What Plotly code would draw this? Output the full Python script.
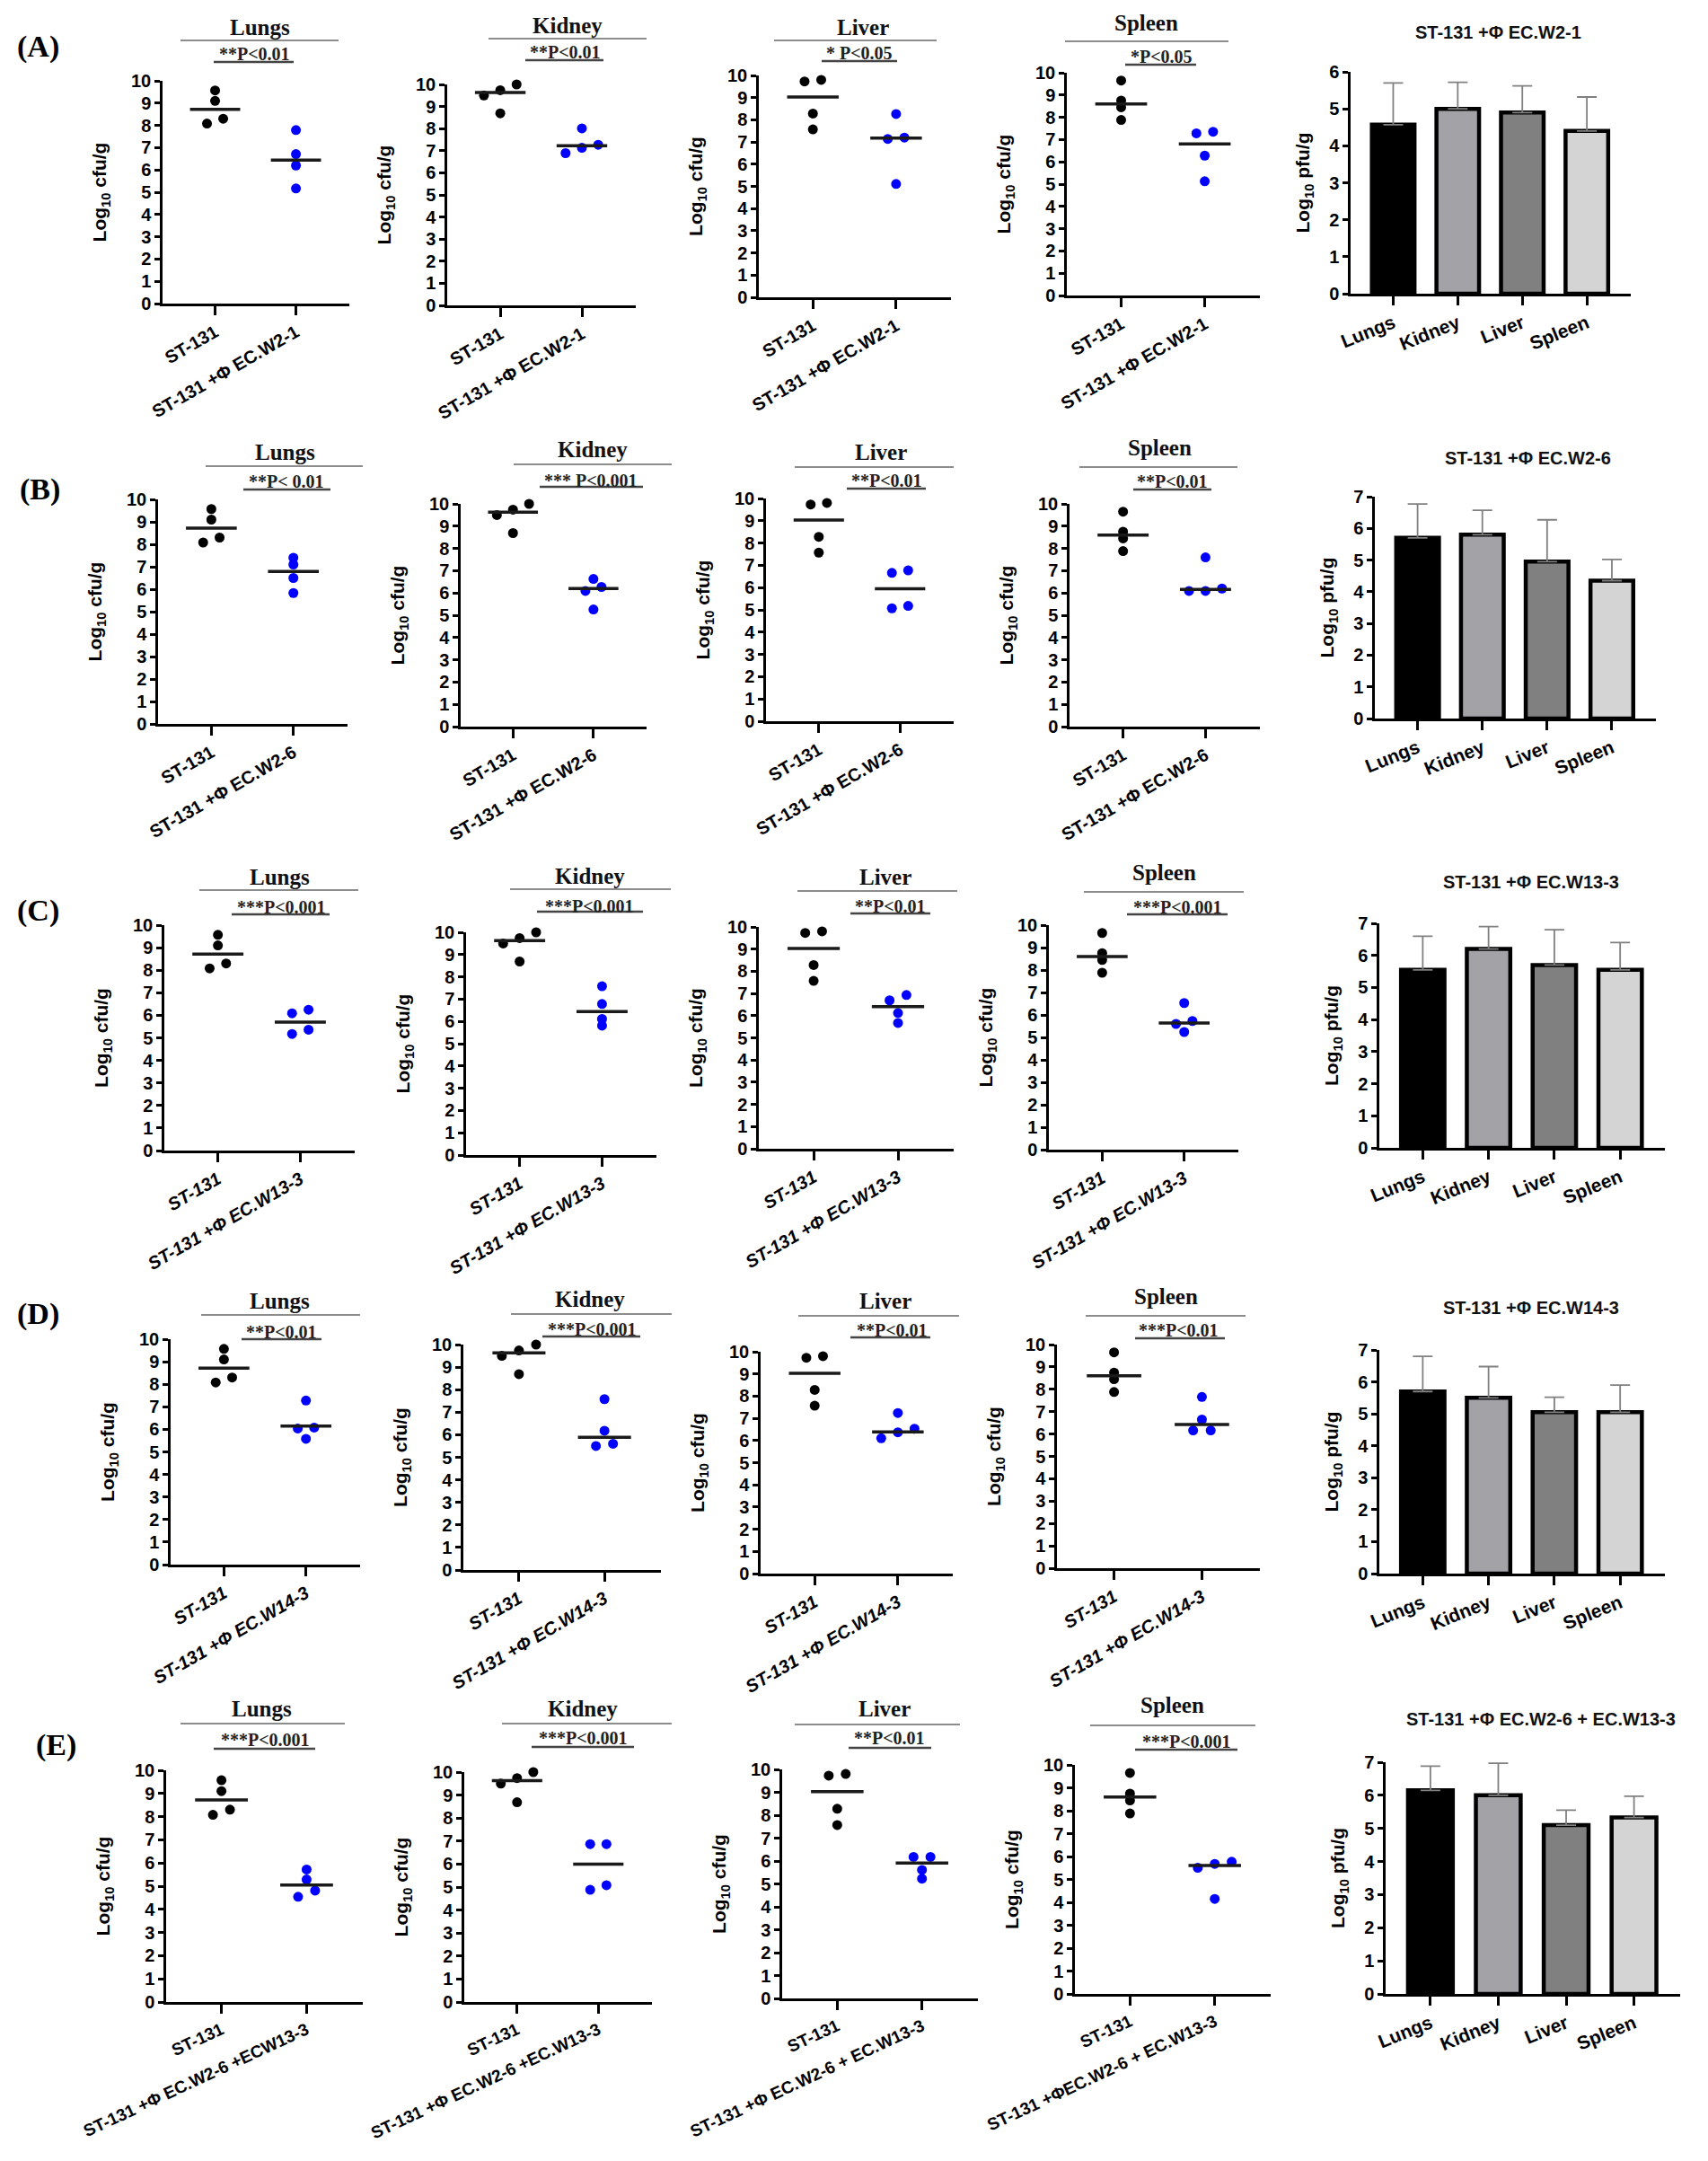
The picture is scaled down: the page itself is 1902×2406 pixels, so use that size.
import plotly.graph_objects as go

W, H = 1902, 2406

ORGANS = ["Lungs", "Kidney", "Liver", "Spleen"]
ROW_TAGS = ["(A)", "(B)", "(C)", "(D)", "(E)"]
CONTROL_LABEL = "ST-131"

# ST-131 control animals (same data shown in every row), log10 cfu/g
CTRL_LUNGS = [9.57, 9.1, 8.3, 8.08]
CTRL_KIDNEY = [10.0, 9.74, 9.5, 8.69]
CTRL_LIVER = [9.73, 9.8, 8.28, 7.57]
CTRL_SPLEEN = [9.65, 8.75, 8.45, 7.88]
CTRL_MEAN = [8.72, 9.63, 9.03, 8.6]

# phage-treated animals, one list per organ (Lungs, Kidney, Liver, Spleen)
TREAT_A = [[7.79, 6.71, 6.2, 5.17], [8.01, 7.27, 7.13, 6.89], [8.26, 7.2, 7.14, 5.11], [7.28, 7.35, 6.28, 5.13]]
TREAT_B = [[7.1, 7.4, 6.5, 5.83], [6.63, 6.27, 6.09, 5.26], [6.66, 6.77, 5.07, 5.18], [7.6, 6.09, 6.2, 6.09]]
TREAT_C = [[6.09, 6.25, 5.17, 5.36], [7.58, 6.78, 6.11, 5.81], [6.93, 6.69, 6.12, 5.67], [6.53, 5.73, 5.6, 5.24]]
TREAT_D = [[7.28, 6.08, 6.04, 5.58], [7.58, 6.18, 5.5, 5.6], [7.24, 6.53, 6.1, 6.37], [7.66, 6.65, 6.16, 6.16]]
TREAT_E = [[5.72, 5.29, 4.81, 4.54], [6.87, 6.87, 4.88, 5.08], [6.18, 6.18, 5.61, 5.23], [5.77, 5.51, 5.68, 4.15]]

TREAT_MEAN_A = [6.44, 7.23, 7.18, 6.8]
TREAT_MEAN_B = [6.79, 6.2, 5.95, 6.16]
TREAT_MEAN_C = [5.7, 6.44, 6.41, 5.64]
TREAT_MEAN_D = [6.15, 5.89, 6.39, 6.43]
TREAT_MEAN_E = [5.05, 6.0, 5.91, 5.61]

P_A = ["**P<0.01", "**P<0.01", "* P<0.05", "*P<0.05"]
P_B = ["**P< 0.01", "*** P<0.001", "**P<0.01", "**P<0.01"]
P_C = ["***P<0.001", "***P<0.001", "**P<0.01", "***P<0.001"]
P_D = ["**P<0.01", "***P<0.001", "**P<0.01", "***P<0.01"]
P_E = ["***P<0.001", "***P<0.001", "**P<0.01", "***P<0.001"]

LABEL_A = ["ST-131 +Φ EC.W2-1"] * 4
LABEL_B = ["ST-131 +Φ EC.W2-6"] * 4
LABEL_C = ["ST-131 +Φ EC.W13-3"] * 4
LABEL_D = ["ST-131 +Φ EC.W14-3"] * 4
LABEL_E = ["ST-131 +Φ EC.W2-6 +ECW13-3", "ST-131 +Φ EC.W2-6 +EC.W13-3",
           "ST-131 +Φ EC.W2-6 + EC.W13-3", "ST-131 +ΦEC.W2-6 + EC.W13-3"]

# phage recovery, log10 pfu/g (mean and upper SD)
PFU_A = [4.57, 5.0, 4.9, 4.4]
PFU_A_SD = [1.13, 0.72, 0.72, 0.92]
PFU_B = [5.7, 5.8, 4.95, 4.35]
PFU_B_SD = [1.07, 0.77, 1.32, 0.67]
PFU_C = [5.55, 6.2, 5.7, 5.55]
PFU_C_SD = [1.05, 0.7, 1.1, 0.85]
PFU_D = [5.7, 5.5, 5.05, 5.05]
PFU_D_SD = [1.1, 0.98, 0.47, 0.85]
PFU_E = [6.15, 6.0, 5.1, 5.33]
PFU_E_SD = [0.73, 0.97, 0.45, 0.64]

BAR_TITLES = ["ST-131 +Φ EC.W2-1", "ST-131 +Φ EC.W2-6", "ST-131 +Φ EC.W13-3",
              "ST-131 +Φ EC.W14-3", "ST-131 +Φ EC.W2-6 + EC.W13-3"]
BAR_FILLS = ["#000000", "#a2a2a7", "#808080", "#d4d4d4"]

CONTROLS = [CTRL_LUNGS, CTRL_KIDNEY, CTRL_LIVER, CTRL_SPLEEN]
ROWS = [
    (TREAT_A, TREAT_MEAN_A, P_A, LABEL_A, PFU_A, PFU_A_SD),
    (TREAT_B, TREAT_MEAN_B, P_B, LABEL_B, PFU_B, PFU_B_SD),
    (TREAT_C, TREAT_MEAN_C, P_C, LABEL_C, PFU_C, PFU_C_SD),
    (TREAT_D, TREAT_MEAN_D, P_D, LABEL_D, PFU_D, PFU_D_SD),
    (TREAT_E, TREAT_MEAN_E, P_E, LABEL_E, PFU_E, PFU_E_SD),
]

# ---- page geometry (pixels): y-axis x, top tick, zero line, x-axis end
SCATTER_GEOM = [
    [(173, 82, 330, 381), (490, 86, 332, 700), (837, 76, 323, 1051), (1180, 73, 321, 1395)],
    [(168, 548, 798, 379), (505, 553, 801, 712), (845, 547, 795, 1054), (1183, 553, 801, 1395)],
    [(175, 1022, 1273, 387), (511, 1030, 1278, 723), (837, 1024, 1271, 1054), (1160, 1022, 1272, 1371)],
    [(182, 1483, 1734, 393), (508, 1489, 1740, 728), (839, 1497, 1744, 1053), (1169, 1489, 1738, 1395)],
    [(177, 1963, 2221, 396), (509, 1965, 2221, 718), (863, 1962, 2217, 1081), (1189, 1957, 2212, 1407)],
]
# organ title (x, y), grey rule (x0, x1, y), p text (x, y), underline (x0, x1, y)
HEADER_GEOM = [
    [((281, 22), (193, 369, 37), (275, 52), (230, 319, 61)),
     ((624, 20), (536, 712, 35), (621, 50), (577, 664, 59)),
     ((953, 22), (854, 1035, 37), (949, 51), (907, 991, 60)),
     ((1268, 17), (1178, 1360, 38), (1285, 55), (1245, 1324, 64))],
    [((309, 495), (221, 396, 511), (311, 528), (263, 360, 537)),
     ((652, 493), (564, 740, 509), (650, 527), (593, 708, 534)),
     ((973, 495), (877, 1054, 512), (979, 527), (935, 1023, 536)),
     ((1283, 491), (1194, 1370, 512), (1297, 528), (1254, 1341, 537))],
    [((303, 968), (214, 391, 983), (305, 1002), (250, 359, 1010)),
     ((649, 967), (560, 739, 982), (648, 1001), (590, 708, 1007)),
     ((978, 968), (880, 1058, 984), (983, 1001), (939, 1028, 1009)),
     ((1288, 963), (1199, 1377, 985), (1303, 1002), (1247, 1359, 1010))],
    [((303, 1440), (216, 393, 1456), (305, 1475), (261, 350, 1483)),
     ((649, 1438), (561, 740, 1455), (651, 1472), (596, 705, 1480)),
     ((978, 1440), (881, 1060, 1457), (985, 1473), (939, 1028, 1481)),
     ((1290, 1435), (1201, 1379, 1457), (1304, 1473), (1256, 1356, 1482))],
    [((283, 1894), (193, 376, 1911), (287, 1929), (230, 343, 1939)),
     ((641, 1894), (551, 740, 1911), (641, 1927), (584, 698, 1937)),
     ((977, 1894), (877, 1061, 1912), (982, 1927), (937, 1029, 1938)),
     ((1297, 1890), (1206, 1390, 1913), (1313, 1931), (1256, 1370, 1940))],
]
BAR_GEOM = [(1496, 72, 319, 1808), (1523, 545, 792, 1836), (1528, 1020, 1270, 1846),
            (1528, 1495, 1744, 1846), (1535, 1954, 2212, 1863)]
BAR_TITLE_POS = [(1660, 28), (1693, 502), (1697, 974), (1697, 1448), (1708, 1906)]
ROW_TAG_POS = [(34, 44), (36, 537), (34, 1006), (34, 1455), (54, 1935)]
X_TICK_ANGLE = [-30, -30, -30, -30, -25]
X_TICK_SIZE = [20, 20, 20, 20, 19]

SANS = "Liberation Sans, Arial, sans-serif"
SERIF = "Liberation Serif, Times New Roman, serif"


def px(x):
    return x / W


def py(y):
    return 1 - y / H


def swarm(values, step=0.2, gap=0.3):
    """Spread points that sit close together sideways, GraphPad style."""
    order = sorted(range(len(values)), key=lambda i: values[i])
    groups, cur = [], [order[0]]
    for i in order[1:]:
        if values[i] - values[cur[-1]] < gap:
            cur.append(i)
        else:
            groups.append(cur)
            cur = [i]
    groups.append(cur)
    off = [0.0] * len(values)
    for g in groups:
        for j, i in enumerate(g):
            off[i] = (j - (len(g) - 1) / 2) * step
    return off


fig = go.Figure()
layout = {}
shapes = []
annotations = []
k = 0


def axis_names(k):
    return ("xaxis" if k == 1 else f"xaxis{k}", "yaxis" if k == 1 else f"yaxis{k}",
            "x" if k == 1 else f"x{k}", "y" if k == 1 else f"y{k}")


def hline(x0, x1, y, color, width):
    shapes.append(dict(type="line", xref="paper", yref="paper", x0=px(x0), x1=px(x1),
                       y0=py(y), y1=py(y), line=dict(color=color, width=width)))


def tfont(size):
    return dict(family=SANS, size=size, color="black", weight="bold")


AXIS_STYLE = dict(
    ticks="outside", tickwidth=2.5, tickcolor="black", showline=True, linewidth=2.5,
    linecolor="black", showgrid=False, zeroline=False, automargin=False,
)

for r, (treat, tmean, pvals, labels, pfu, pfu_sd) in enumerate(ROWS):
    italic = r in (2, 3)
    for c in range(4):
        k += 1
        xa, ya, xr, yr = axis_names(k)
        ax, top, bot, xend = SCATTER_GEOM[r][c]
        ticktext = [CONTROL_LABEL, labels[c]]
        if italic:
            ticktext = [f"<i>{t}</i>" for t in ticktext]
        layout[xa] = dict(
            domain=[px(ax), px(xend)], anchor=yr, range=[-0.65, 1.66],
            tickvals=[0, 1], ticktext=ticktext, tickangle=X_TICK_ANGLE[r], ticklen=10,
            tickfont=tfont(X_TICK_SIZE[r]), **AXIS_STYLE,
        )
        layout[ya] = dict(
            domain=[py(bot), py(top)], anchor=xr, range=[0, 10], dtick=1, ticklen=6,
            tickfont=tfont(20),
            title=dict(text="Log<sub>10</sub> cfu/g", standoff=22, font=tfont(21)),
            **AXIS_STYLE,
        )
        groups = [(0, CONTROLS[c], CTRL_MEAN[c], "black"), (1, treat[c], tmean[c], "#0000ff")]
        for pos, vals, mean, col in groups:
            off = swarm(vals)
            fig.add_trace(go.Scatter(
                x=[pos + o for o in off], y=vals, mode="markers", xaxis=xr, yaxis=yr,
                marker=dict(size=11, color=col), cliponaxis=False, hoverinfo="y",
            ))
            fig.add_trace(go.Scatter(
                x=[pos - 0.31, pos + 0.31], y=[mean, mean], mode="lines", xaxis=xr, yaxis=yr,
                line=dict(color="#1a1a1a", width=3.5), hoverinfo="skip",
            ))

        (tx, ty), (lx0, lx1, ly), (ptx, pty), (ux0, ux1, uy) = HEADER_GEOM[r][c]
        annotations.append(dict(
            x=px(tx), y=py(ty), xref="paper", yref="paper", showarrow=False,
            text=f"<b>{ORGANS[c]}</b>", font=dict(family=SERIF, size=25, color="#111"),
            xanchor="center", yanchor="middle",
        ))
        hline(lx0, lx1, ly, "#8c8c8c", 2)
        annotations.append(dict(
            x=px(ptx), y=py(pty), xref="paper", yref="paper", showarrow=False,
            text=f"<b>{pvals[c]}</b>", font=dict(family=SERIF, size=20, color="#222"),
            xanchor="center", yanchor="middle",
        ))
        hline(ux0, ux1, uy, "#444444", 2.5)

    # phage recovery bar chart
    k += 1
    xa, ya, xr, yr = axis_names(k)
    ax, top, bot, xend = BAR_GEOM[r]
    ymax = 6 if r == 0 else 7
    layout[xa] = dict(
        domain=[px(ax), px(xend)], anchor=yr, range=[-0.66, 3.68],
        tickvals=[0, 1, 2, 3], ticktext=ORGANS, tickangle=-22, ticklen=10,
        tickfont=tfont(21), **AXIS_STYLE,
    )
    layout[ya] = dict(
        domain=[py(bot), py(top)], anchor=xr, range=[0, ymax], dtick=1, ticklen=6,
        tickfont=tfont(20),
        title=dict(text="Log<sub>10</sub> pfu/g", standoff=16, font=tfont(21)),
        **AXIS_STYLE,
    )
    fig.add_trace(go.Bar(
        x=[0, 1, 2, 3], y=pfu, width=0.66, xaxis=xr, yaxis=yr,
        marker=dict(color=BAR_FILLS, line=dict(color="black", width=4.5)),
        error_y=dict(type="data", array=pfu_sd, arrayminus=[0] * 4, symmetric=False,
                     color="#808080", thickness=1.8, width=11),
    ))
    bx, by = BAR_TITLE_POS[r]
    annotations.append(dict(
        x=px(bx), y=py(by), xref="paper", yref="paper", showarrow=False,
        text=f"<b>{BAR_TITLES[r]}</b>", font=dict(family=SANS, size=20, color="#111"),
        xanchor="center", yanchor="middle",
    ))

    rx, ry = ROW_TAG_POS[r]
    annotations.append(dict(
        x=px(rx), y=py(ry), xref="paper", yref="paper", showarrow=False,
        text=f"<b>{ROW_TAGS[r]}</b>", font=dict(family=SERIF, size=34, color="black"),
        xanchor="center", yanchor="middle",
    ))

fig.update_layout(
    width=W, height=H, margin=dict(l=0, r=0, t=0, b=0, autoexpand=False),
    paper_bgcolor="white", plot_bgcolor="white", showlegend=False,
    shapes=shapes, annotations=annotations, **layout,
)

fig.write_html("out.html")
